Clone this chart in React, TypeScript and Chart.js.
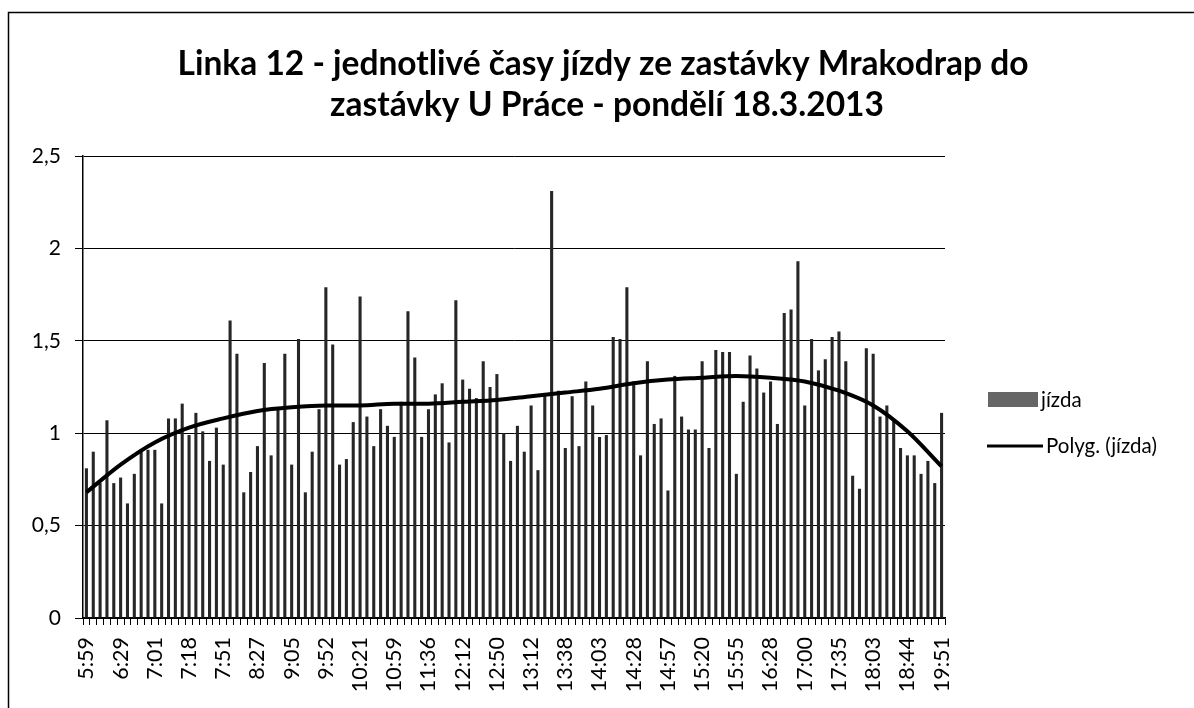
import React, { useEffect, useRef } from "react";
import { Chart, registerables } from "chart.js";

Chart.register(...registerables);

const titleLines = [
  "Linka 12 - jednotlivé časy jízdy ze zastávky Mrakodrap do",
  "zastávky U Práce - pondělí 18.3.2013",
];

// every 5th category carries a visible time label
const tickLabels = [
  "5:59", "6:29", "7:01", "7:18", "7:51", "8:27", "9:05", "9:52", "10:21",
  "10:59", "11:36", "12:12", "12:50", "13:12", "13:38", "14:03", "14:28",
  "14:57", "15:20", "15:55", "16:28", "17:00", "17:35", "18:03", "18:44", "19:51",
];
const labelStep = 5;

const jizda = [
  0.81, 0.9, 0.73, 1.07, 0.73, 0.76, 0.62, 0.78, 0.9, 0.91,
  0.91, 0.62, 1.08, 1.08, 1.16, 0.99, 1.11, 1.01, 0.85, 1.03,
  0.83, 1.61, 1.43, 0.68, 0.79, 0.93, 1.38, 0.88, 1.14, 1.43,
  0.83, 1.51, 0.68, 0.9, 1.13, 1.79, 1.48, 0.83, 0.86, 1.06,
  1.74, 1.09, 0.93, 1.13, 1.04, 0.98, 1.17, 1.66, 1.41, 0.98,
  1.13, 1.21, 1.27, 0.95, 1.72, 1.29, 1.24, 1.19, 1.39, 1.25,
  1.32, 1.0, 0.85, 1.04, 0.9, 1.15, 0.8, 1.21, 2.31, 1.23,
  0.92, 1.2, 0.93, 1.28, 1.15, 0.98, 0.99, 1.52, 1.51, 1.79,
  1.28, 0.88, 1.39, 1.05, 1.08, 0.69, 1.31, 1.09, 1.02, 1.02,
  1.39, 0.92, 1.45, 1.44, 1.44, 0.78, 1.17, 1.42, 1.35, 1.22,
  1.28, 1.05, 1.65, 1.67, 1.93, 1.15, 1.51, 1.34, 1.4, 1.52,
  1.55, 1.39, 0.77, 0.7, 1.46, 1.43, 1.09, 1.15, 1.07, 0.92,
  0.88, 0.88, 0.78, 0.85, 0.73, 1.11,
];

// trend line values read at each labelled category
const trendAtLabels = [
  0.68, 0.83, 0.95, 1.03, 1.08, 1.12, 1.14, 1.15, 1.15, 1.16, 1.16, 1.17, 1.18,
  1.2, 1.22, 1.24, 1.27, 1.29, 1.3, 1.31, 1.3, 1.28, 1.23, 1.15, 1.01, 0.82,
];

const yTicks = [0, 0.5, 1, 1.5, 2, 2.5];

const FONT = "Lato";

export default function App() {
  const ref = useRef<HTMLCanvasElement | null>(null);

  useEffect(() => {
    if (!ref.current) return;
    const categories = jizda.map((_, i) =>
      i % labelStep === 0 ? tickLabels[i / labelStep] : "c" + i
    );
    const trend = jizda.map((_, i) =>
      i % labelStep === 0 ? trendAtLabels[i / labelStep] : null
    );

    const decor = {
      id: "decor",
      beforeDraw(chart: any) {
        const ctx = chart.ctx;
        ctx.save();
        ctx.fillStyle = "#ffffff";
        ctx.fillRect(0, 0, chart.width, chart.height);
        ctx.restore();
      },
      afterDraw(chart: any) {
        const ctx = chart.ctx;
        ctx.save();
        // outer chart border
        ctx.strokeStyle = "#000";
        ctx.lineWidth = 1.5;
        ctx.strokeRect(8.5, 12.5, 1300, 800);
        // title
        ctx.fillStyle = "#000";
        ctx.textAlign = "center";
        ctx.textBaseline = "middle";
        ctx.font = `bold 33.5px ${FONT}`;
        ctx.fillText(titleLines[0], 603, 64);
        ctx.fillText(titleLines[1], 607, 105);
        // legend
        ctx.textAlign = "left";
        ctx.font = `20.5px ${FONT}`;
        ctx.fillStyle = "#666";
        ctx.fillRect(988, 392, 50, 15);
        ctx.fillStyle = "#000";
        ctx.fillText("jízda", 1041, 400);
        ctx.beginPath();
        ctx.lineWidth = 3;
        ctx.moveTo(987, 446);
        ctx.lineTo(1043, 446);
        ctx.stroke();
        ctx.fillText("Polyg. (jízda)", 1046, 446);
        ctx.restore();
      },
    };

    const chart = new Chart(ref.current, {
      type: "bar",
      data: {
        labels: categories,
        datasets: [
          {
            type: "line",
            label: "Polyg. (jízda)",
            data: trend,
            borderColor: "#000",
            borderWidth: 4,
            pointRadius: 0,
            spanGaps: true,
            cubicInterpolationMode: "monotone",
            order: 0,
          } as any,
          {
            type: "bar",
            label: "jízda",
            data: jizda,
            backgroundColor: "#262626",
            borderWidth: 0,
            barPercentage: 0.45,
            categoryPercentage: 1,
            order: 1,
          },
        ],
      },
      options: {
        responsive: false,
        animation: false,
        layout: { padding: { left: 8, top: 156, right: 249, bottom: 0 } },
        plugins: {
          legend: { display: false },
          title: { display: false },
          tooltip: { enabled: false },
        },
        scales: {
          x: {
            afterFit: (s: any) => {
              s.height = 90;
            },
            border: { color: "#000", width: 1.5 },
            grid: {
              display: true,
              drawOnChartArea: false,
              drawTicks: true,
              tickLength: 7,
              color: "#000",
              offset: true,
            },
            ticks: {
              autoSkip: false,
              maxRotation: 90,
              minRotation: 90,
              padding: 12,
              color: "#000",
              font: { family: FONT, size: 21.5 },
              callback: (_v: any, i: number) =>
                i % labelStep === 0 ? tickLabels[i / labelStep] : "",
            },
          },
          y: {
            min: 0,
            max: 2.5,
            afterFit: (s: any) => {
              s.width = 75;
            },
            afterBuildTicks: (s: any) => {
              s.ticks = yTicks.map((v) => ({ value: v }));
            },
            border: { color: "#000", width: 1.5 },
            grid: {
              color: "#000",
              lineWidth: 1,
              tickLength: 8,
            },
            ticks: {
              padding: 14,
              color: "#000",
              font: { family: FONT, size: 21 },
              callback: (v: any) => String(v).replace(".", ","),
            },
          },
        },
      },
      plugins: [decor],
    });
    return () => chart.destroy();
  }, []);

  return (
    <div style={{ position: "absolute", left: 0, top: 0, width: 1194, height: 708 }}>
      <canvas ref={ref} width={1194} height={708} />
    </div>
  );
}
